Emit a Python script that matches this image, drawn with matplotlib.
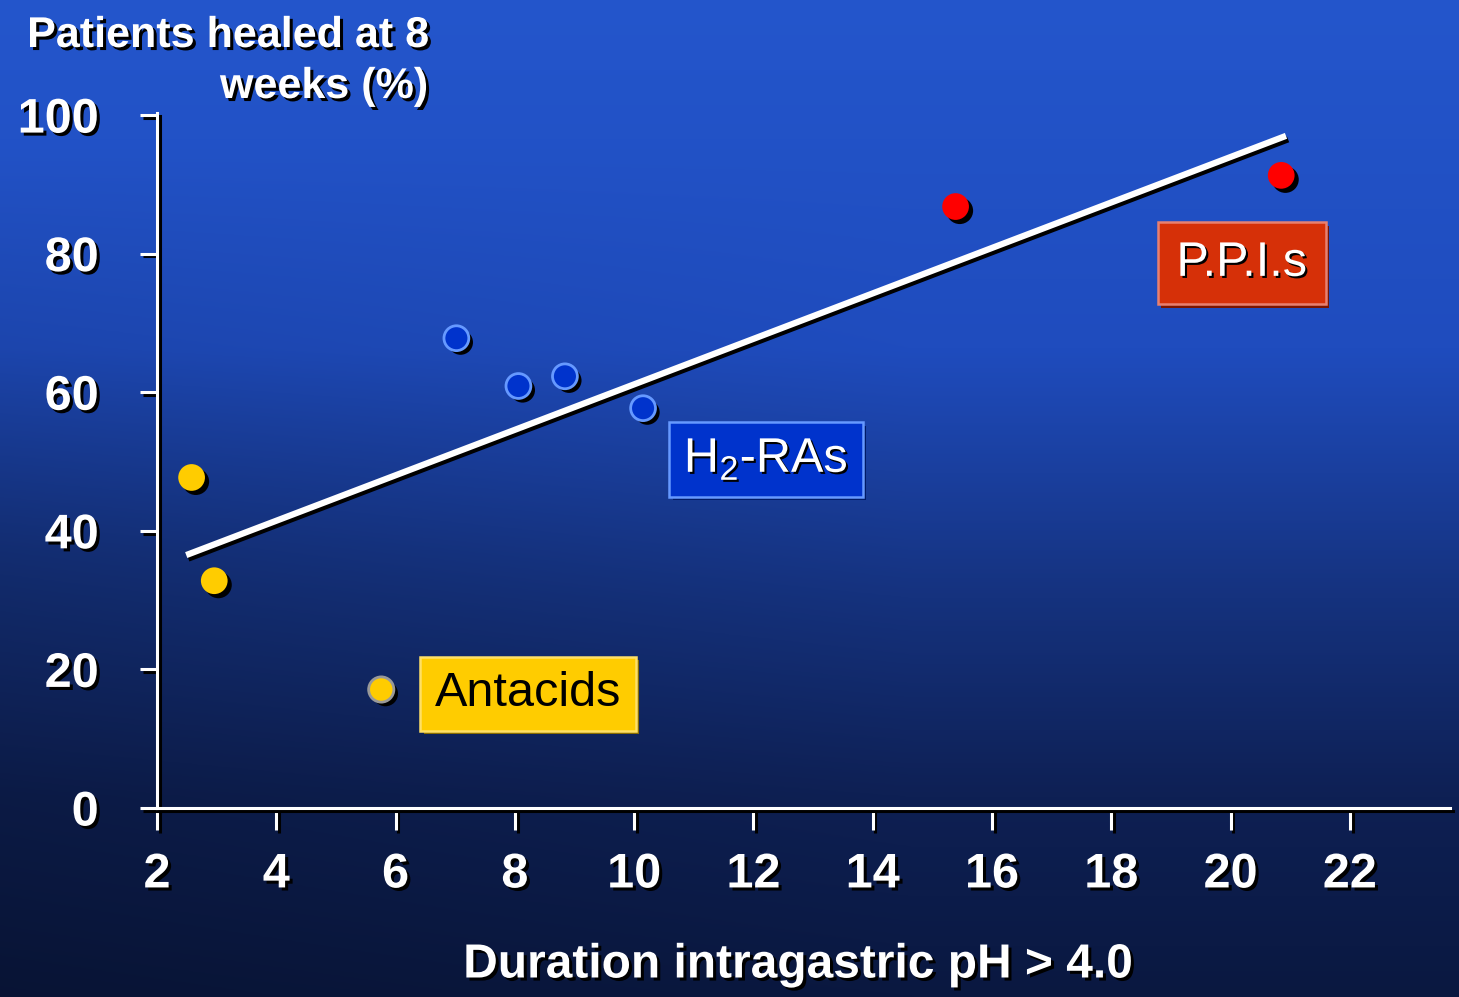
import matplotlib
matplotlib.use("Agg")
import matplotlib.pyplot as plt
import matplotlib.patheffects as pe
import numpy as np

# healing rate vs. time with intragastric pH > 4
antacid_x = [2.58, 2.96, 5.76]
antacid_y = [47.7, 32.8, 17.1]
h2ra_x = [7.02, 8.06, 8.84, 10.15]
h2ra_y = [67.8, 60.9, 62.3, 57.7]
ppi_x = [15.39, 20.85]
ppi_y = [86.8, 91.3]
fit_x = [2.49, 20.93]
fit_y = [36.5, 97.0]

x_ticks = [2, 4, 6, 8, 10, 12, 14, 16, 18, 20, 22]
y_ticks = [0, 20, 40, 60, 80, 100]

plt.rcParams["font.family"] = ["Liberation Sans", "DejaVu Sans"]
plt.rcParams["mathtext.fontset"] = "custom"
plt.rcParams["mathtext.rm"] = "Liberation Sans"

W, H = 1459, 997
fig = plt.figure(figsize=(W / 100, H / 100), dpi=100)

# background: blue fading to navy towards the bottom, a bit darker on the left
bg = fig.add_axes([0, 0, 1, 1], zorder=0)
rows = np.linspace(0, 1, 400)[:, None]
cols = np.linspace(0, 1, 400)[None, :]
stops = [0.0, 0.35, 0.6, 0.8, 1.0]
r = np.interp(rows, stops, [36, 31, 21, 14, 10])
g = np.interp(rows, stops, [86, 76, 50, 32, 24])
b = np.interp(rows, stops, [204, 190, 126, 84, 64])
shade = 0.82 + 0.18 * np.clip(cols * 1.6, 0, 1)
shade = 1 - (1 - shade) * np.clip((rows - 0.15) * 2.5, 0, 1)
img = np.dstack([r * shade, g * shade, b * shade]) / 255
bg.imshow(np.clip(img, 0, 1), aspect="auto", extent=[0, 1, 0, 1], origin="upper")
bg.axis("off")

ax = fig.add_axes([157 / W, 1 - 808 / H, (1450 - 157) / W, (808 - 113) / H], zorder=1)
ax.patch.set_alpha(0)
ax.set_xlim(2, 23.68)
ax.set_ylim(0, 100.3)

shadow_txt = [pe.SimplePatchShadow(offset=(2.2, -2.2), shadow_rgbFace="black", alpha=1), pe.Normal()]
shadow_line = [pe.SimpleLineShadow(offset=(2.0, -2.0), shadow_color="black", alpha=1), pe.Normal()]
shadow_dot = [pe.SimplePatchShadow(offset=(3.0, -3.0), shadow_rgbFace="black", alpha=1), pe.Normal()]

for side in ["top", "right"]:
    ax.spines[side].set_visible(False)
for side in ["left", "bottom"]:
    ax.spines[side].set_color("white")
    ax.spines[side].set_linewidth(2.2)
    ax.spines[side].set_path_effects(shadow_line)
    ax.spines[side].set_capstyle("projecting")

ax.set_xticks(x_ticks)
ax.set_yticks(y_ticks)
ax.tick_params(axis="x", direction="out", length=16, width=2.2, color="white",
               pad=16, labelsize=35, labelcolor="white")
ax.tick_params(axis="y", direction="out", length=12, width=2.2, color="white",
               pad=30, labelsize=35, labelcolor="white")
for lab in ax.get_xticklabels() + ax.get_yticklabels():
    lab.set_fontweight("bold")
    lab.set_path_effects(shadow_txt)
for tl in ax.xaxis.get_ticklines() + ax.yaxis.get_ticklines():
    tl.set_path_effects(shadow_line)

ax.plot(fit_x, fit_y, color="white", lw=4.5, solid_capstyle="butt",
        path_effects=[pe.SimpleLineShadow(offset=(1.5, -2.5), shadow_color="black", alpha=1), pe.Normal()],
        zorder=3)

ax.scatter(antacid_x[:2], antacid_y[:2], s=370, color="#FFCC00", lw=0,
           path_effects=shadow_dot, zorder=4)
ax.scatter(antacid_x[2:], antacid_y[2:], s=330, color="#FFCC00", edgecolors="#999999",
           linewidths=2, path_effects=shadow_dot, zorder=4)
ax.scatter(h2ra_x, h2ra_y, s=320, color="#0033CC", edgecolors="#6699FF",
           linewidths=2, path_effects=shadow_dot, zorder=4)
ax.scatter(ppi_x, ppi_y, s=370, color="#FF0000", lw=0,
           path_effects=shadow_dot, zorder=4)


def group_label(x, y, text, face, edge, dark, color, pad):
    t = ax.text(x, y, text, ha="center", va="center", fontsize=35, color=color, zorder=5,
                bbox=dict(boxstyle=f"square,pad={pad}", facecolor=face, edgecolor=edge, lw=1.8))
    if color == "white":
        t.set_path_effects([pe.SimplePatchShadow(offset=(1.5, -1.5), shadow_rgbFace="black", alpha=1),
                            pe.Normal()])
    t.get_bbox_patch().set_path_effects(
        [pe.SimplePatchShadow(offset=(2.5, -2.5), shadow_rgbFace=dark, alpha=1), pe.Normal()])
    return t


group_label(8.22, 16.5, "Antacids", "#FFCC00", "#FFE066", "#8A6D00", "black", 0.3)
group_label(12.21, 50.3, r"H$_\mathrm{2}$-RAs", "#0033CC", "#6699FF", "#001A66", "white", 0.3)
group_label(20.19, 78.6, "P.P.I.s", "#D63008", "#E88070", "#7A1500", "white", 0.38)

# y-axis title, two right-aligned lines above the axis
for line, ypix in [("Patients healed at 8", 36), ("weeks (%)", 87)]:
    fig.text(428 / W, 1 - ypix / H, line, ha="right", va="center",
             fontsize=31, fontweight="bold", color="white", path_effects=shadow_txt)
fig.text(798 / W, 1 - 965 / H, "Duration intragastric pH > 4.0", ha="center", va="center",
         fontsize=34.5, fontweight="bold", color="white", path_effects=shadow_txt)

fig.savefig("out.png", dpi=100)
